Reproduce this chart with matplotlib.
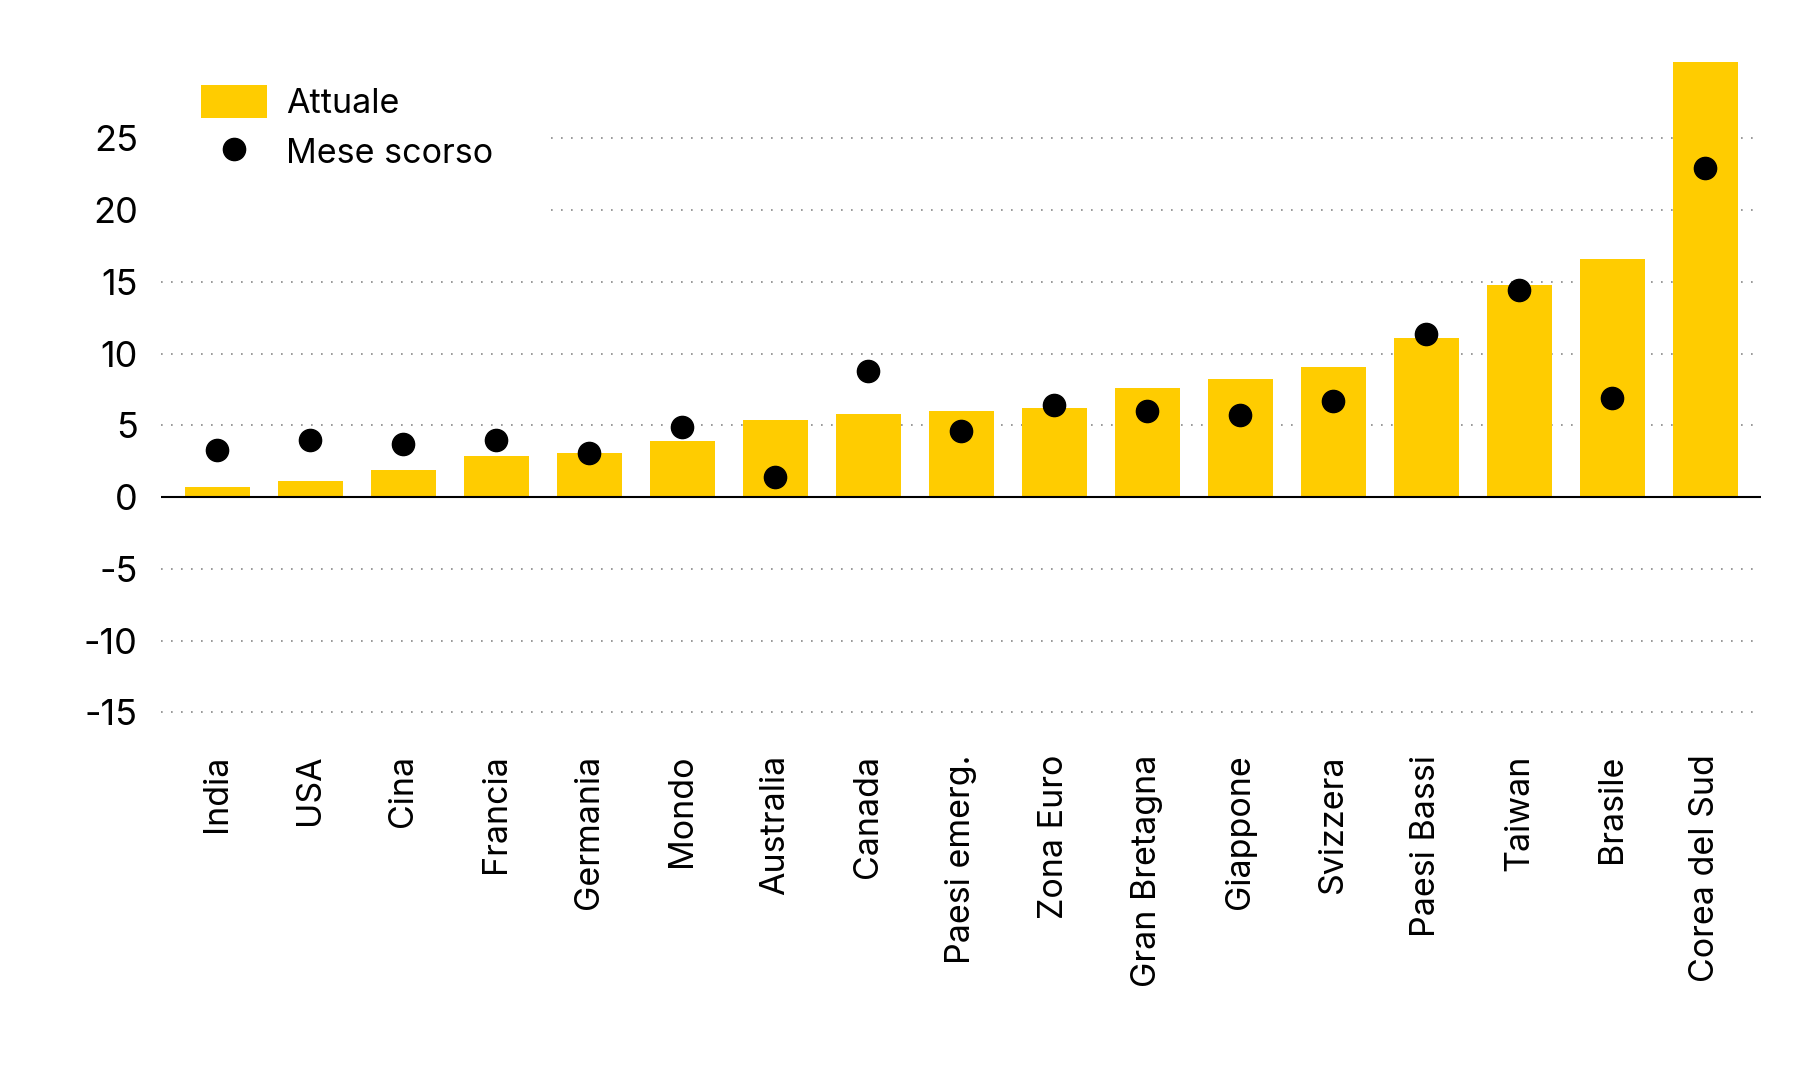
import matplotlib
matplotlib.use("Agg")
import matplotlib.pyplot as plt
import numpy as np
from matplotlib.lines import Line2D
from matplotlib.patches import Patch

# data
paesi = ["India", "USA", "Cina", "Francia", "Germania", "Mondo", "Australia",
         "Canada", "Paesi emerg.", "Zona Euro", "Gran Bretagna", "Giappone",
         "Svizzera", "Paesi Bassi", "Taiwan", "Brasile", "Corea del Sud"]
attuale = [0.7, 1.1, 1.9, 2.9, 3.1, 3.9, 5.4, 5.8, 6.0, 6.2, 7.6, 8.2,
           9.1, 11.1, 14.8, 16.6, 30.4]
mese_scorso = [3.3, 4.0, 3.7, 4.0, 3.1, 4.9, 1.4, 8.8, 4.6, 6.4, 6.0, 5.7,
               6.7, 11.4, 14.4, 6.9, 22.9]
y_ticks = [-15, -10, -5, 0, 5, 10, 15, 20, 25]

GIALLO = "#FFCC00"

plt.rcParams['font.family'] = ['Inter', 'DejaVu Sans']

fig = plt.figure(figsize=(18, 10.8), dpi=100)
ax = fig.add_axes([0.0897, 0.327, 0.8888, 0.6154])

x = np.arange(len(paesi))
ax.bar(x, attuale, width=0.7, color=GIALLO, zorder=2)
ax.plot(x, mese_scorso, 'o', color='black', markersize=16, zorder=4)

ax.axhline(0, color='black', linewidth=1.5, zorder=3)

ax.set_xlim(-0.6, len(paesi) - 0.4)
ax.set_ylim(-16, 30.3)
ax.set_yticks(y_ticks)
ax.set_yticklabels([str(v) for v in y_ticks])
ax.set_xticks(x)
ax.set_xticklabels(paesi, rotation=90, va='top', ha='center')

ax.yaxis.grid(True, linestyle=(0, (1, 5)), color='#888888', linewidth=1.2)
ax.set_axisbelow(True)

for s in ax.spines.values():
    s.set_visible(False)
ax.tick_params(axis='both', length=0)
ax.tick_params(axis='y', pad=17, labelsize=26)
ax.tick_params(axis='x', pad=20, labelsize=24.5)

# white legend box hides the top gridlines, as in the original
handles = [Patch(facecolor=GIALLO, edgecolor='none'),
           Line2D([], [], marker='o', linestyle='none', color='black', markersize=16)]
leg = ax.legend(handles, ["Attuale", "Mese scorso"], loc='upper left',
                bbox_to_anchor=(-0.0136, 1.058), frameon=True, framealpha=1,
                facecolor='white', edgecolor='none', fontsize=24.5,
                handlelength=1.95, handleheight=1.1, handletextpad=0.55,
                labelspacing=0.45, borderpad=1.5, borderaxespad=0.3)
leg.set_zorder(5)

fig.savefig("out.png", dpi=100, facecolor='white')
